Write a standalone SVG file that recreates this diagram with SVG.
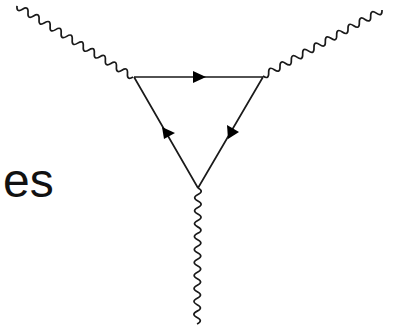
<svg xmlns="http://www.w3.org/2000/svg" width="400" height="329" viewBox="0 0 400 329">
<style>
.w{fill:none;stroke:#1a1a1a;stroke-width:1.7}
.l{fill:none;stroke:#1a1a1a;stroke-width:1.7}
.a{fill:#000}
text{font-family:"Liberation Sans",Arial,sans-serif;font-size:48px;fill:#111}
</style>
<defs>
<path id="wave" class="w" d="M0 0q3.24 -6.5 6.48 0t6.48 0t6.48 0t6.48 0t6.48 0t6.48 0t6.48 0t6.48 0t6.48 0t6.48 0t6.48 0t6.48 0t6.48 0t6.48 0t6.48 0t6.48 0t6.48 0t6.48 0t6.48 0t6.48 0t6.48 0"/>
</defs>
<rect width="400" height="329" fill="#fff"/>
<text x="3" y="197">es</text>
<g id="connectors">
<path class="l" d="M134 77H263M134 77L198 188M263 77L198 188"/>
<use href="#wave" transform="translate(133 77) rotate(211.5)"/>
<use href="#wave" transform="translate(263 76) rotate(-29) scale(1 -1)"/>
<use href="#wave" transform="translate(198 188) rotate(90.4)"/>
<path class="a" d="M206 77L193 71V83Z"/>
<path class="a" d="M228 139L227 125L239 132Z"/>
<path class="a" d="M162 127L164 139L175 133Z"/>
</g>
</svg>
